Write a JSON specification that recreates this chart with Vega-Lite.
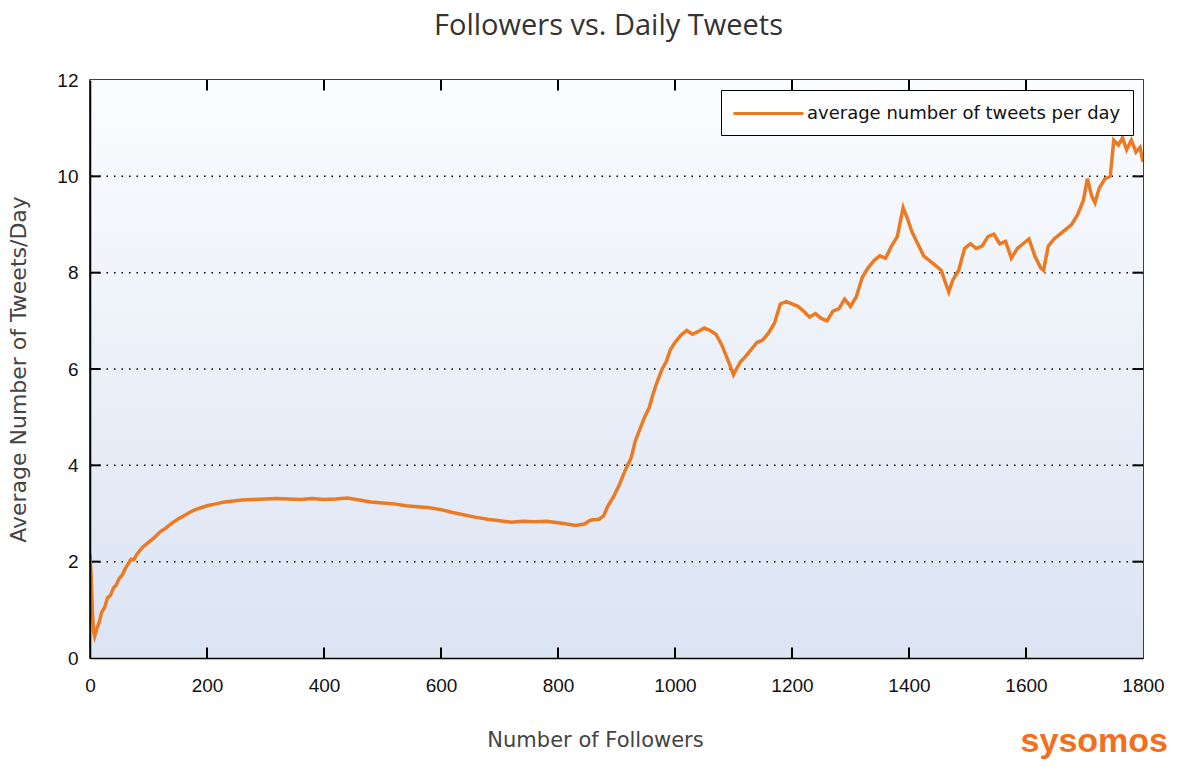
{
  "$schema": "https://vega.github.io/schema/vega-lite/v6.json",
  "width": 1053,
  "height": 578,
  "autosize": {"type": "none"},
  "padding": {"left": 90, "top": 80, "right": 36, "bottom": 111},
  "background": "white",
  "title": {
    "text": "Followers vs. Daily Tweets",
    "font": "Open Sans",
    "fontSize": 29,
    "fontWeight": "normal",
    "color": "#333333",
    "offset": 30,
    "dx": -8
  },
  "config": {
    "view": {"stroke": "black", "strokeWidth": 1.5},
    "axis": {
      "labelFont": "Liberation Sans",
      "labelFontSize": 19,
      "labelColor": "#111111",
      "titleFont": "DejaVu Sans",
      "titleFontSize": 21,
      "titleFontWeight": "normal",
      "titleColor": "#444444",
      "domainColor": "black",
      "domainWidth": 1.5,
      "ticks": false
    }
  },
  "datasets": {
    "series": [
      {"followers": 0, "tweets": 2.15}, {"followers": 2, "tweets": 1.7}, {"followers": 4, "tweets": 1.0},
      {"followers": 6, "tweets": 0.55}, {"followers": 8, "tweets": 0.45}, {"followers": 12, "tweets": 0.62},
      {"followers": 16, "tweets": 0.75}, {"followers": 20, "tweets": 0.95}, {"followers": 25, "tweets": 1.05},
      {"followers": 30, "tweets": 1.25}, {"followers": 35, "tweets": 1.3}, {"followers": 40, "tweets": 1.45},
      {"followers": 45, "tweets": 1.52}, {"followers": 50, "tweets": 1.65}, {"followers": 55, "tweets": 1.72},
      {"followers": 60, "tweets": 1.85}, {"followers": 65, "tweets": 1.95}, {"followers": 70, "tweets": 2.05},
      {"followers": 75, "tweets": 2.04}, {"followers": 80, "tweets": 2.15}, {"followers": 90, "tweets": 2.3},
      {"followers": 100, "tweets": 2.4}, {"followers": 110, "tweets": 2.5}, {"followers": 120, "tweets": 2.62},
      {"followers": 130, "tweets": 2.7}, {"followers": 140, "tweets": 2.8}, {"followers": 150, "tweets": 2.88},
      {"followers": 160, "tweets": 2.95}, {"followers": 170, "tweets": 3.02}, {"followers": 180, "tweets": 3.08},
      {"followers": 190, "tweets": 3.12}, {"followers": 200, "tweets": 3.16}, {"followers": 215, "tweets": 3.2},
      {"followers": 230, "tweets": 3.24}, {"followers": 245, "tweets": 3.26}, {"followers": 260, "tweets": 3.28},
      {"followers": 280, "tweets": 3.29}, {"followers": 300, "tweets": 3.3}, {"followers": 320, "tweets": 3.31},
      {"followers": 340, "tweets": 3.3}, {"followers": 360, "tweets": 3.29}, {"followers": 380, "tweets": 3.31},
      {"followers": 400, "tweets": 3.29}, {"followers": 420, "tweets": 3.3}, {"followers": 440, "tweets": 3.32},
      {"followers": 460, "tweets": 3.28}, {"followers": 480, "tweets": 3.24}, {"followers": 500, "tweets": 3.22},
      {"followers": 520, "tweets": 3.2}, {"followers": 540, "tweets": 3.16}, {"followers": 560, "tweets": 3.14},
      {"followers": 580, "tweets": 3.12}, {"followers": 600, "tweets": 3.08}, {"followers": 620, "tweets": 3.02},
      {"followers": 640, "tweets": 2.97}, {"followers": 660, "tweets": 2.92}, {"followers": 680, "tweets": 2.88},
      {"followers": 700, "tweets": 2.85}, {"followers": 720, "tweets": 2.82}, {"followers": 740, "tweets": 2.84},
      {"followers": 760, "tweets": 2.83}, {"followers": 780, "tweets": 2.84}, {"followers": 800, "tweets": 2.81},
      {"followers": 815, "tweets": 2.78}, {"followers": 830, "tweets": 2.75}, {"followers": 845, "tweets": 2.78},
      {"followers": 855, "tweets": 2.86}, {"followers": 870, "tweets": 2.88}, {"followers": 878, "tweets": 2.95},
      {"followers": 885, "tweets": 3.15}, {"followers": 895, "tweets": 3.35}, {"followers": 905, "tweets": 3.6},
      {"followers": 915, "tweets": 3.9}, {"followers": 925, "tweets": 4.15}, {"followers": 932, "tweets": 4.5},
      {"followers": 940, "tweets": 4.75}, {"followers": 948, "tweets": 5.0}, {"followers": 956, "tweets": 5.2},
      {"followers": 963, "tweets": 5.5}, {"followers": 970, "tweets": 5.75}, {"followers": 978, "tweets": 6.0},
      {"followers": 985, "tweets": 6.15}, {"followers": 992, "tweets": 6.4}, {"followers": 1000, "tweets": 6.55},
      {"followers": 1010, "tweets": 6.7}, {"followers": 1020, "tweets": 6.8}, {"followers": 1030, "tweets": 6.72},
      {"followers": 1040, "tweets": 6.78}, {"followers": 1050, "tweets": 6.85}, {"followers": 1060, "tweets": 6.8},
      {"followers": 1070, "tweets": 6.72}, {"followers": 1080, "tweets": 6.5}, {"followers": 1090, "tweets": 6.2},
      {"followers": 1100, "tweets": 5.88}, {"followers": 1105, "tweets": 6.0}, {"followers": 1112, "tweets": 6.15},
      {"followers": 1120, "tweets": 6.25}, {"followers": 1130, "tweets": 6.4}, {"followers": 1140, "tweets": 6.55},
      {"followers": 1150, "tweets": 6.6}, {"followers": 1160, "tweets": 6.75}, {"followers": 1170, "tweets": 6.95},
      {"followers": 1180, "tweets": 7.35}, {"followers": 1190, "tweets": 7.4}, {"followers": 1200, "tweets": 7.35},
      {"followers": 1210, "tweets": 7.3}, {"followers": 1220, "tweets": 7.2}, {"followers": 1230, "tweets": 7.08},
      {"followers": 1240, "tweets": 7.15}, {"followers": 1250, "tweets": 7.05}, {"followers": 1260, "tweets": 7.0},
      {"followers": 1270, "tweets": 7.2}, {"followers": 1280, "tweets": 7.25}, {"followers": 1290, "tweets": 7.45},
      {"followers": 1300, "tweets": 7.3}, {"followers": 1310, "tweets": 7.5}, {"followers": 1320, "tweets": 7.9},
      {"followers": 1330, "tweets": 8.1}, {"followers": 1340, "tweets": 8.25}, {"followers": 1350, "tweets": 8.35},
      {"followers": 1360, "tweets": 8.3}, {"followers": 1370, "tweets": 8.55}, {"followers": 1380, "tweets": 8.75},
      {"followers": 1390, "tweets": 9.35}, {"followers": 1398, "tweets": 9.1}, {"followers": 1405, "tweets": 8.85},
      {"followers": 1415, "tweets": 8.6}, {"followers": 1425, "tweets": 8.35}, {"followers": 1435, "tweets": 8.25},
      {"followers": 1445, "tweets": 8.15}, {"followers": 1455, "tweets": 8.05}, {"followers": 1462, "tweets": 7.8},
      {"followers": 1468, "tweets": 7.6}, {"followers": 1475, "tweets": 7.85}, {"followers": 1485, "tweets": 8.05},
      {"followers": 1495, "tweets": 8.5}, {"followers": 1505, "tweets": 8.6}, {"followers": 1515, "tweets": 8.5},
      {"followers": 1525, "tweets": 8.55}, {"followers": 1535, "tweets": 8.75}, {"followers": 1545, "tweets": 8.8},
      {"followers": 1555, "tweets": 8.6}, {"followers": 1565, "tweets": 8.65}, {"followers": 1575, "tweets": 8.3},
      {"followers": 1585, "tweets": 8.5}, {"followers": 1595, "tweets": 8.6}, {"followers": 1605, "tweets": 8.7},
      {"followers": 1615, "tweets": 8.35}, {"followers": 1625, "tweets": 8.1}, {"followers": 1630, "tweets": 8.05},
      {"followers": 1638, "tweets": 8.55}, {"followers": 1648, "tweets": 8.7}, {"followers": 1658, "tweets": 8.8},
      {"followers": 1668, "tweets": 8.9}, {"followers": 1678, "tweets": 9.0}, {"followers": 1688, "tweets": 9.2},
      {"followers": 1698, "tweets": 9.5}, {"followers": 1705, "tweets": 9.95}, {"followers": 1712, "tweets": 9.6},
      {"followers": 1718, "tweets": 9.45}, {"followers": 1725, "tweets": 9.75}, {"followers": 1735, "tweets": 9.95},
      {"followers": 1744, "tweets": 10.0}, {"followers": 1750, "tweets": 10.75}, {"followers": 1758, "tweets": 10.65},
      {"followers": 1765, "tweets": 10.8}, {"followers": 1772, "tweets": 10.55}, {"followers": 1780, "tweets": 10.75},
      {"followers": 1788, "tweets": 10.5}, {"followers": 1795, "tweets": 10.6}, {"followers": 1800, "tweets": 10.3}
    ],
    "xticks": [{"tick": 200}, {"tick": 400}, {"tick": 600}, {"tick": 800}, {"tick": 1000}, {"tick": 1200}, {"tick": 1400}, {"tick": 1600}],
    "yticks": [{"tick": 2}, {"tick": 4}, {"tick": 6}, {"tick": 8}, {"tick": 10}]
  },
  "layer": [
    {
      "data": {"values": [{"panel": "plot"}]},
      "mark": {
        "type": "rect",
        "color": {
          "gradient": "linear",
          "x1": 0, "y1": 0, "x2": 0, "y2": 1,
          "stops": [
            {"offset": 0, "color": "#fbfcfe"},
            {"offset": 1, "color": "#dbe4f3"}
          ]
        }
      },
      "encoding": {
        "x": {"datum": 0, "type": "quantitative", "scale": {"domain": [0, 1800], "nice": false}, "axis": null},
        "x2": {"datum": 1800},
        "y": {"datum": 0, "type": "quantitative", "scale": {"domain": [0, 12], "nice": false}, "axis": null},
        "y2": {"datum": 12}
      }
    },
    {
      "data": {"name": "yticks"},
      "mark": {"type": "rule", "color": "black", "strokeWidth": 1.5, "strokeDash": [1.5, 6]},
      "encoding": {
        "y": {"field": "tick", "type": "quantitative", "axis": null}
      }
    },
    {
      "data": {"name": "xticks"},
      "mark": {"type": "rule", "color": "black", "strokeWidth": 2},
      "encoding": {
        "x": {"field": "tick", "type": "quantitative", "axis": null},
        "y": {"datum": 0, "type": "quantitative", "axis": null},
        "y2": {"datum": 0.22}
      }
    },
    {
      "data": {"name": "xticks"},
      "mark": {"type": "rule", "color": "black", "strokeWidth": 2},
      "encoding": {
        "x": {"field": "tick", "type": "quantitative", "axis": null},
        "y": {"datum": 12, "type": "quantitative", "axis": null},
        "y2": {"datum": 11.78}
      }
    },
    {
      "data": {"name": "yticks"},
      "mark": {"type": "rule", "color": "black", "strokeWidth": 2},
      "encoding": {
        "y": {"field": "tick", "type": "quantitative", "axis": null},
        "x": {"datum": 0, "type": "quantitative", "axis": null},
        "x2": {"datum": 18}
      }
    },
    {
      "data": {"name": "yticks"},
      "mark": {"type": "rule", "color": "black", "strokeWidth": 2},
      "encoding": {
        "y": {"field": "tick", "type": "quantitative", "axis": null},
        "x": {"datum": 1800, "type": "quantitative", "axis": null},
        "x2": {"datum": 1782}
      }
    },
    {
      "data": {"name": "series"},
      "mark": {"type": "line", "strokeWidth": 3.5, "interpolate": "linear", "clip": true},
      "encoding": {
        "x": {
          "field": "followers", "type": "quantitative",
          "scale": {"domain": [0, 1800], "nice": false},
          "axis": {
            "orient": "bottom",
            "title": "Number of Followers",
            "titleX": 505,
            "format": "d",
            "values": [0, 200, 400, 600, 800, 1000, 1200, 1400, 1600, 1800],
            "grid": false,
            "labelPadding": 18,
            "titlePadding": 34,
            "labelFlush": false,
            "zindex": 2
          }
        },
        "y": {
          "field": "tweets", "type": "quantitative",
          "scale": {"domain": [0, 12], "nice": false},
          "axis": {
            "orient": "left",
            "title": "Average Number of Tweets/Day",
            "titleFontSize": 22,
            "values": [0, 2, 4, 6, 8, 10, 12],
            "grid": false,
            "labelPadding": 12,
            "titlePadding": 26,
            "labelFlush": false,
            "zindex": 2
          }
        },
        "color": {
          "datum": "average number of tweets per day",
          "type": "nominal",
          "scale": {"range": ["#ec7a23"]},
          "legend": {
            "title": null,
            "orient": "top-right",
            "offset": 10,
            "strokeColor": "black",
            "fillColor": "white",
            "padding": 12,
            "symbolType": "M-3.5,0H3.5",
            "symbolSize": 400,
            "symbolOffset": 24,
            "symbolStrokeWidth": 3,
            "symbolStrokeColor": "#dd8a52",
            "symbolFillColor": "transparent",
            "labelFont": "DejaVu Sans",
            "labelFontSize": 18,
            "labelColor": "#111111",
            "labelOffset": 27,
            "labelLimit": 500,
            "cornerRadius": 0
          }
        }
      }
    },
    {
      "data": {"values": [{"brand": "sysomos"}]},
      "mark": {"type": "text", "align": "right", "baseline": "middle", "dy": 84, "dx": 25, "font": "Liberation Sans", "fontSize": 34, "fontWeight": "bold", "color": "#f26f21", "clip": false},
      "encoding": {
        "x": {"datum": 1800, "type": "quantitative", "axis": null},
        "y": {"datum": 0, "type": "quantitative", "axis": null},
        "text": {"field": "brand"}
      }
    }
  ],
  "resolve": {"axis": {"x": "independent", "y": "independent"}}
}
